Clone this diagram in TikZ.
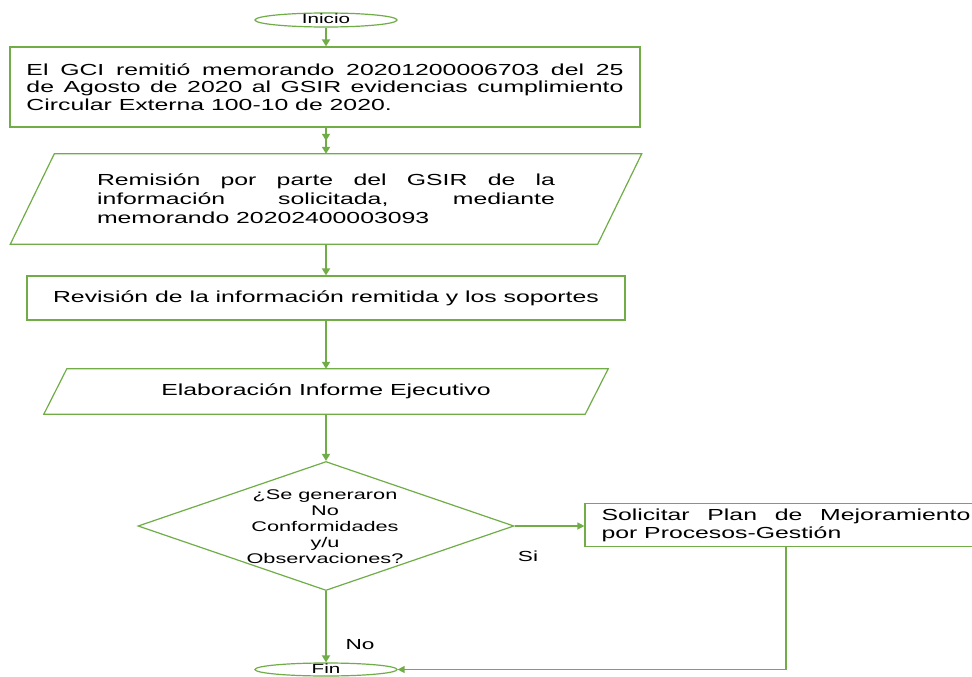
\documentclass[tikz,border=0pt]{standalone}
\usepackage{fontspec}
\setmainfont{Liberation Sans}[FakeStretch=1.55]
\usetikzlibrary{arrows.meta,shapes.geometric}
\definecolor{grn}{HTML}{70AD47}
\begin{document}
\begin{tikzpicture}[x=1pt,y=-1pt,
  shp/.style={draw=grn, line width=1.2pt},
  boxn/.style={shp, rectangle, inner sep=0pt, align=justify},
  arr/.style={draw=grn, line width=2pt, -{Triangle[length=7pt,width=8pt]}},
  dblarr/.style={draw=grn, line width=2pt, -{Triangle[length=7pt,width=8pt,sep=6pt]Triangle[length=7pt,width=8pt]}},
  arrthin/.style={draw=grn, line width=1.3pt, -{Triangle[length=7pt,width=7pt]}},
  mainf/.style={font=\fontsize{16}{17.5}\selectfont},
  ovalf/.style={font=\fontsize{13.3}{14}\selectfont},
  lblf/.style={font=\fontsize{14.6}{16}\selectfont}
]
\useasboundingbox (0,0) rectangle (972,677);
\fill[white] (0,0) rectangle (972,677);
\clip (0,0) rectangle (972,677);

% nodes
\node[shp, ellipse, minimum width=142pt, minimum height=14pt, inner sep=0pt,
      text height=8pt, text depth=1pt, ovalf] (ini) at (326,20) {Inicio};

\node[boxn, minimum width=630pt, minimum height=80pt, text width=597pt, mainf]
  (b1) at (325,87) {El GCI remitió memorando 20201200006703 del 25\linebreak de Agosto de 2020 al GSIR evidencias cumplimiento\linebreak Circular Externa 100-10 de 2020.};

\node[inner sep=0pt, minimum width=587pt, minimum height=90pt, text width=458pt,
      align=justify, font=\fontsize{16}{19}\selectfont]
  (p1) at (326,199) {Remisión por parte del GSIR de la\linebreak información solicitada, mediante\linebreak memorando 20202400003093};
\draw[shp] ([xshift=22pt]p1.north west) -- ([xshift=22pt]p1.north east)
  -- ([xshift=-22pt]p1.south east) -- ([xshift=-22pt]p1.south west) -- cycle;

\node[boxn, minimum width=598pt, minimum height=44pt, align=center, mainf]
  (b2) at (326,298) {Revisión de la información remitida y los soportes};

\node[inner sep=0pt, minimum width=541pt, minimum height=45pt, mainf]
  (p2) at (326,391.5) {Elaboración Informe Ejecutivo};
\draw[shp] ([xshift=11.5pt]p2.north west) -- ([xshift=11.5pt]p2.north east)
  -- ([xshift=-11.5pt]p2.south east) -- ([xshift=-11.5pt]p2.south west) -- cycle;

\node[shp, diamond, minimum width=376pt, minimum height=129pt, inner sep=0pt]
  (d) at (326,526) {};
\node[align=center, inner sep=0pt, font=\fontsize{14}{16}\selectfont]
  (dt) at (325,527) {¿Se generaron\\No\\Conformidades\\y/u\\Observaciones?};

\node[boxn, minimum width=402pt, minimum height=43pt, text width=369pt,
      font=\fontsize{16}{18}\selectfont]
  (b3) at (786,525) {Solicitar Plan de Mejoramiento\linebreak por Procesos-Gestión};

\node[shp, ellipse, minimum width=142pt, minimum height=13pt, inner sep=0pt,
      text height=8pt, text depth=1pt, ovalf] (fin) at (326,669.5) {Fin};

\node[lblf] (si) at (528,556) {Si};
\node[lblf] (no) at (360,645) {No};

% connectors
\draw[arr] (ini.south) -- (b1.north -| ini.south);
\draw[dblarr] (b1.south -| p1.north) -- (p1.north);
\draw[arr] (p1.south) -- (b2.north);
\draw[arr] (b2.south) -- (p2.north);
\draw[arr] (p2.south) -- (d.north);
\draw[arr] (d.south) -- (fin.north);
\draw[arrthin] (d.east) -- (d.east -| b3.west);
\draw[arrthin] (b3.south) |- (fin.east);
\end{tikzpicture}
\end{document}
